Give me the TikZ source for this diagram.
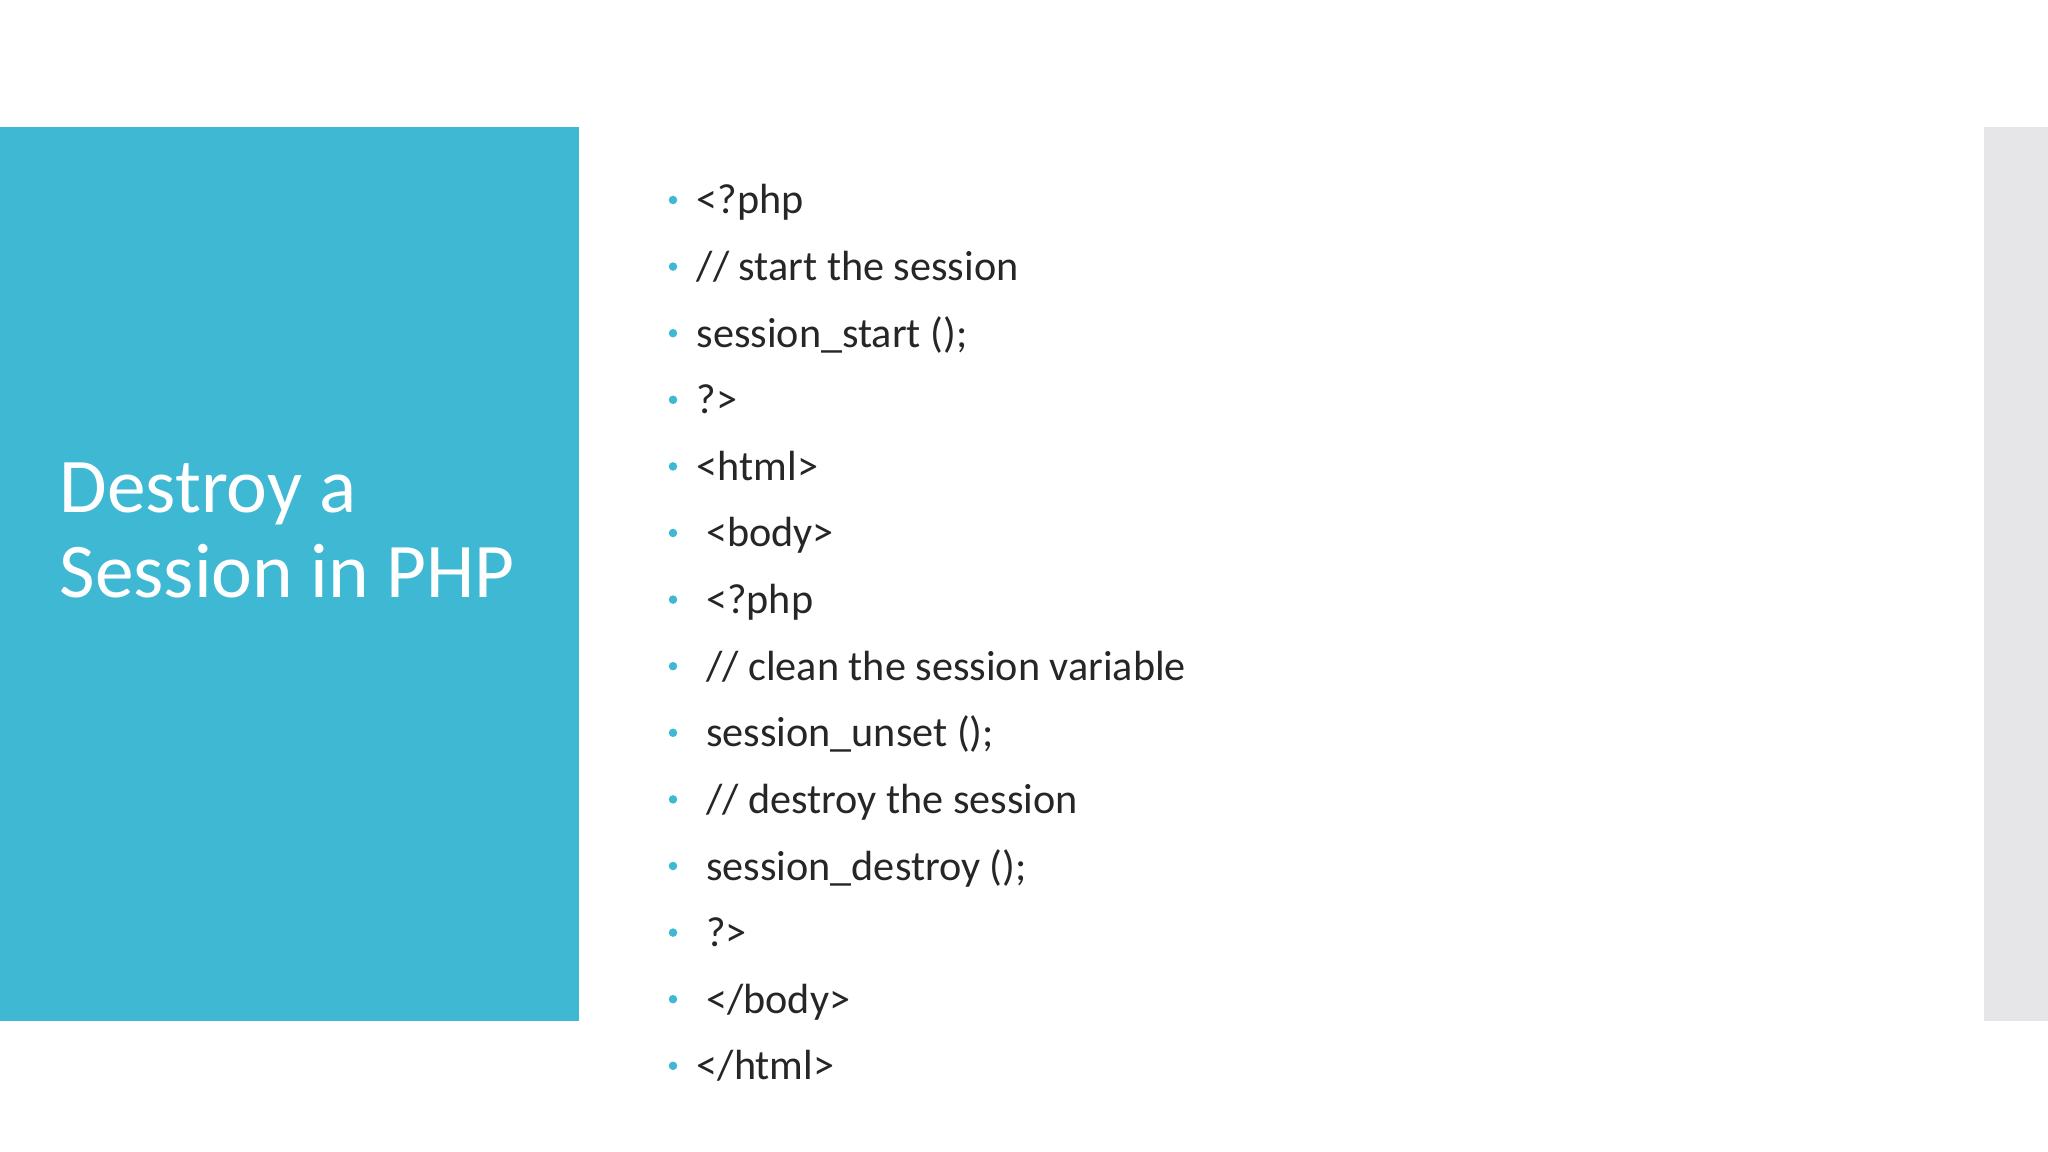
\documentclass[tikz,border=0pt]{standalone}
\usepackage{fontspec}
\setmainfont{Carlito}
\definecolor{accent}{HTML}{3FB8D4}
\definecolor{side}{HTML}{E6E6E8}
\begin{document}
\begin{tikzpicture}[x=0.01cm,y=-0.01cm,
  line/.style={anchor=base west,inner sep=0pt,font=\fontsize{12}{14}\selectfont,text=black!85},
  dot/.style={circle,fill=accent,inner sep=0pt,minimum size=0.085cm}]
\useasboundingbox[fill=white] (0,0) rectangle (2048,1152);
\fill[accent] (0,127) rectangle (579,1021);
\fill[side] (1984,127) rectangle (2048,1021);
\node[anchor=base west,inner sep=0pt,text=white,align=left,font=\fontsize{22}{24}\selectfont] (title) at (59,597) {Destroy a\\Session in PHP};
\foreach \t [count=\i from 0] in {{<?php},{// start the session},{session\_start ();},{?>},{<html>},{\ <body>},{\ <?php},{\ // clean the session variable},{\ session\_unset ();},{\ // destroy the session},{\ session\_destroy ();},{\ ?>},{\ </body>},{</html>}}{
  \node[dot] (d\i) at (673,{200+66.6*\i}) {};
  \node[line] (l\i) at (696,{214+66.6*\i}) {\t};
}
\end{tikzpicture}
\end{document}
